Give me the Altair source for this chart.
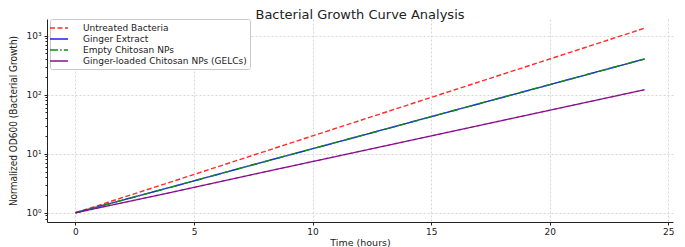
import altair as alt
import pandas as pd

time_h = [0, 4, 8, 12, 16, 20, 24]
untreated = [1.0, 3.3, 11.0, 36.6, 121.5, 403.0, 1340.0]
ginger = [1.0, 2.7, 7.4, 20.0, 54.6, 148.0, 403.0]
empty_np = [1.0, 2.7, 7.4, 20.0, 54.6, 148.0, 403.0]
gelcs = [1.0, 2.2, 4.95, 11.0, 24.5, 54.6, 121.5]

series_names = ["Untreated Bacteria", "Ginger Extract", "Empty Chitosan NPs",
                "Ginger-loaded Chitosan NPs (GELCs)"]
series_vals = [untreated, ginger, empty_np, gelcs]
colors = ["#ff2a2a", "#1f1fff", "#108a10", "#8a108a"]
dashes = [[5, 2.5], [1, 0], [8, 2.2, 1.5, 2.2], [1, 0]]

rows = []
for name, vals in zip(series_names, series_vals):
    for t, v in zip(time_h, vals):
        rows.append({"t": t, "v": v, "s": name})
df = pd.DataFrame(rows)

major = [1, 10, 100, 1000]
minor = [0.8, 0.9] + [m * d for d in [1, 10, 100] for m in range(2, 10)]

FONT = "DejaVu Sans"

xscale = alt.Scale(domain=[-1.2, 25.2], nice=False, zero=False)
yscale = alt.Scale(type="log", domain=[0.698, 1918], nice=False)

lab_expr = ("datum.value == 1 ? '10⁰' : datum.value == 10 ? '10¹' : "
            "datum.value == 100 ? '10²' : '10³'")

GRID = "#d6d6d6"

lines = alt.Chart(df).mark_line(strokeWidth=1.4, clip=True).encode(
    x=alt.X("t:Q", scale=xscale,
            axis=alt.Axis(title="Time (hours)", values=[0, 5, 10, 15, 20, 25],
                          grid=True, gridDash=[2, 2], gridColor=GRID,
                          domainColor="#222", tickColor="#222", tickSize=3,
                          labelFontSize=9, titleFontSize=9.5, labelFont=FONT,
                          titleFont=FONT, titlePadding=1, labelPadding=2,
                          labelColor="#222", titleColor="#222",
                          titleFontWeight="normal")),
    y=alt.Y("v:Q", scale=yscale,
            axis=alt.Axis(title="Normalized OD600 (Bacterial Growth)",
                          values=major, labelExpr=lab_expr,
                          grid=True, gridDash=[2, 2], gridColor=GRID,
                          domainColor="#222", tickColor="#222", tickSize=3,
                          labelFontSize=9, titleFontSize=10, labelFont=FONT,
                          titleFont="DejaVu Sans Condensed", titlePadding=7,
                          labelPadding=3, labelColor="#222", titleColor="#222",
                          titleFontWeight="normal")),
    color=alt.Color("s:N", scale=alt.Scale(domain=series_names, range=colors),
                    legend=alt.Legend(title=None, orient="none", legendX=3,
                                      legendY=0, symbolType="M-1.8,0H1.8",
                                      symbolSize=100, symbolStrokeWidth=1.4,
                                      labelFontSize=9, labelFont=FONT,
                                      labelColor="#222", labelOffset=18,
                                      labelLimit=400,
                                      rowPadding=0, padding=3,
                                      strokeColor="#c8c8c8", fillColor="white",
                                      cornerRadius=2)),
    strokeDash=alt.StrokeDash("s:N", scale=alt.Scale(domain=series_names,
                                                     range=dashes),
                              legend=None),
    order=alt.value(0),
)

minor_df = pd.DataFrame({"v": minor})
minor_ticks = alt.Chart(minor_df).mark_point(opacity=0).encode(
    y=alt.Y("v:Q", scale=yscale,
            axis=alt.Axis(title=None, values=minor, labels=False, grid=False,
                          domain=False, tickSize=2, tickColor="#222",
                          orient="left")),
)

chart = alt.layer(lines, minor_ticks).resolve_axis(y="independent").properties(
    width=626, height=203,
    autosize=alt.AutoSizeParams(type="none"),
    padding={"left": 39, "top": 11, "right": 4, "bottom": 25},
    title=alt.Title("Bacterial Growth Curve Analysis", fontSize=13,
                    font=FONT, fontWeight="normal", color="#222",
                    anchor="middle", offset=0, baseline="bottom", dy=16),
).configure_view(stroke=None)

chart.save("out.html", embed_options={"renderer": "svg", "actions": False})
